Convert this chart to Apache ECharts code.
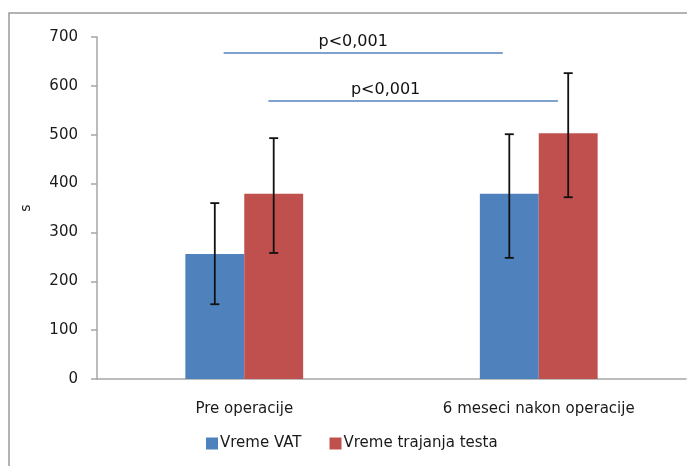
<!DOCTYPE html>
<html>
<head>
<meta charset="utf-8">
<script src="https://cdn.jsdelivr.net/npm/echarts@6/dist/echarts.min.js"></script>
<style>
  html, body { margin: 0; padding: 0; background: #fff; }
  #chart { width: 687px; height: 466px; }
</style>
</head>
<body>
<div id="chart"></div>
<script>
// Categories and series
const categories = ['Pre operacije', '6 meseci nakon operacije'];
const seriesNames = ['Vreme VAT', 'Vreme trajanja testa'];
const vatMean = [256, 379];
const testMean = [379, 503];
// Error bar ends (low, high)
const vatLow = [153, 248];
const vatHigh = [360, 501];
const testLow = [258, 372];
const testHigh = [493, 626];
// Y axis ticks
const yTicks = [0, 100, 200, 300, 400, 500, 600, 700];
// Significance brackets: level and extent along a 0..2 span of the category axis
const sigLevel = [667, 569];
const sigFrom = [0.43, 0.582];
const sigTo = [1.378, 1.565];
const sigTextPos = [0.87, 0.98];
const sigText = ['p<0,001', 'p<0,001'];

const colors = ['#4f81bd', '#c0504d'];
const font = 'DejaVu Sans';
const textColor = '#1a1a1a';

const chart = echarts.init(document.getElementById('chart'));

function errorSeries(idx, low, high) {
  return {
    type: 'custom',
    xAxisIndex: 0,
    yAxisIndex: 0,
    z: 5,
    data: low.map((l, i) => [i, l, high[i]]),
    renderItem: function (params, api) {
      const band = api.size([1, 0])[0];
      const barW = band * 0.2;
      const off = (idx - 0.5) * barW;
      const lo = api.coord([api.value(0), api.value(1)]);
      const hi = api.coord([api.value(0), api.value(2)]);
      const x = lo[0] + off;
      const cap = 4.5;
      const style = { stroke: '#111', lineWidth: 1.8 };
      return {
        type: 'group',
        children: [
          { type: 'line', shape: { x1: x, y1: lo[1], x2: x, y2: hi[1] }, style },
          { type: 'line', shape: { x1: x - cap, y1: lo[1], x2: x + cap, y2: lo[1] }, style },
          { type: 'line', shape: { x1: x - cap, y1: hi[1], x2: x + cap, y2: hi[1] }, style }
        ]
      };
    }
  };
}

const sigLines = sigLevel.map((lvl, i) => ({
  type: 'line',
  xAxisIndex: 1,
  yAxisIndex: 0,
  symbol: 'none',
  silent: true,
  z: 6,
  lineStyle: { color: '#7fa1cf', width: 2 },
  data: [[sigFrom[i], lvl], [sigTo[i], lvl]]
}));

const sigLabels = {
  type: 'scatter',
  xAxisIndex: 1,
  yAxisIndex: 0,
  symbolSize: 0,
  silent: true,
  z: 7,
  itemStyle: { opacity: 1 },
  label: {
    show: true,
    position: 'top',
    distance: 3,
    color: '#111',
    opacity: 1,
    fontFamily: font,
    fontSize: 16,
    formatter: p => sigText[p.dataIndex]
  },
  data: sigLevel.map((lvl, i) => [sigTextPos[i], lvl])
};

chart.setOption({
  animation: false,
  color: colors,
  graphic: [{
    type: 'rect',
    shape: { x: 9, y: 13, width: 700, height: 470 },
    style: { fill: 'none', stroke: '#9a9a9a', lineWidth: 1.5 },
    z: -1
  }],
  grid: { left: 97, right: 1, top: 37, bottom: 87 },
  legend: {
    left: 201,
    top: 431,
    icon: 'rect',
    itemWidth: 12,
    itemHeight: 12,
    itemGap: 28,
    textStyle: { fontFamily: font, fontSize: 15, color: textColor, padding: [0, 0, 0, -3] },
    data: seriesNames
  },
  xAxis: [{
    type: 'category',
    data: categories,
    axisLine: { lineStyle: { color: '#a6a6a6', width: 1.5 } },
    axisTick: { show: false },
    axisLabel: { fontFamily: font, fontSize: 15, color: textColor, margin: 23 }
  }, {
    type: 'value',
    min: 0,
    max: 2,
    show: false
  }],
  yAxis: {
    type: 'value',
    min: yTicks[0],
    max: yTicks[yTicks.length - 1],
    interval: yTicks[1] - yTicks[0],
    name: 's',
    nameLocation: 'middle',
    nameGap: 64,
    nameRotate: 90,
    nameTextStyle: { fontFamily: font, fontSize: 14, color: textColor },
    axisLine: { show: true, lineStyle: { color: '#a6a6a6', width: 1.5 } },
    axisTick: { show: true, length: 6, lineStyle: { color: '#a6a6a6', width: 1.5 } },
    splitLine: { show: false },
    axisLabel: { fontFamily: font, fontSize: 15, color: textColor, margin: 19 }
  },
  series: [
    {
      name: seriesNames[0],
      type: 'bar',
      barGap: '0%',
      barCategoryGap: '60%',
      data: vatMean,
      itemStyle: { color: colors[0] }
    },
    {
      name: seriesNames[1],
      type: 'bar',
      barGap: '0%',
      barCategoryGap: '60%',
      data: testMean,
      itemStyle: { color: colors[1] }
    },
    errorSeries(0, vatLow, vatHigh),
    errorSeries(1, testLow, testHigh),
    ...sigLines,
    sigLabels
  ]
});
</script>
</body>
</html>
